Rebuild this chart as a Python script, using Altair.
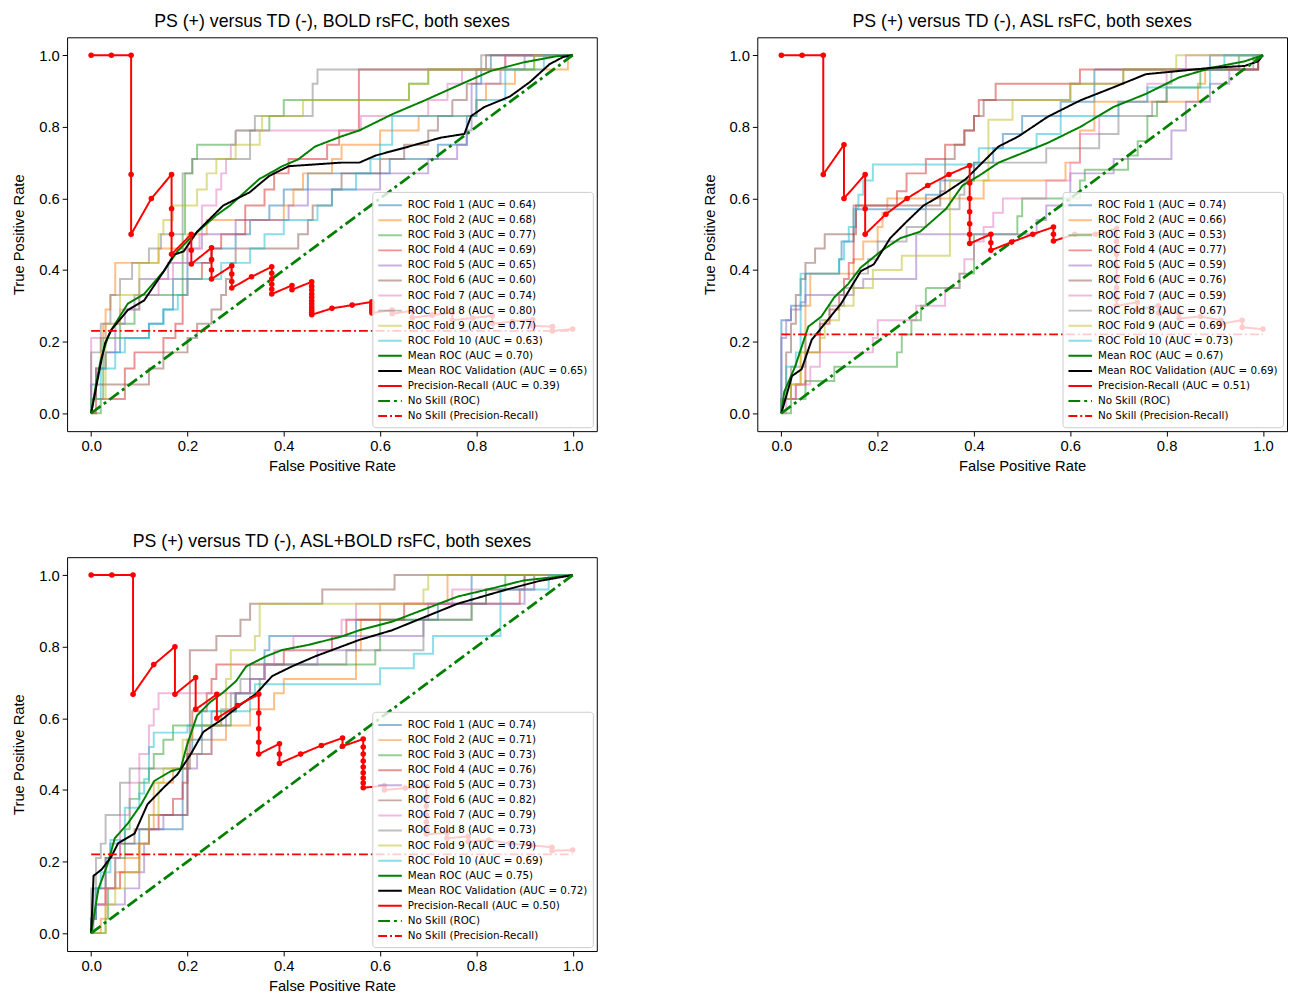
import altair as alt
import pandas as pd

TITLES = [
    "PS (+) versus TD (-), BOLD rsFC, both sexes",
    "PS (+) versus TD (-), ASL rsFC, both sexes",
    "PS (+) versus TD (-), ASL+BOLD rsFC, both sexes",
]
# tab10 colours drawn with alpha 0.5
FOLD_COLORS = ["rgba(31,119,180,0.5)", "rgba(255,127,14,0.5)", "rgba(44,160,44,0.5)",
               "rgba(214,39,40,0.5)", "rgba(148,103,189,0.5)", "rgba(140,86,75,0.5)",
               "rgba(227,119,194,0.5)", "rgba(127,127,127,0.5)", "rgba(188,189,34,0.5)",
               "rgba(23,190,207,0.5)"]

# ---------------- Panel 1: BOLD ----------------
P1_FOLD_AUC = [0.64, 0.68, 0.77, 0.69, 0.65, 0.60, 0.74, 0.80, 0.77, 0.63]
P1_MEAN_AUC = 0.70
P1_VAL_AUC = 0.65
P1_PR_AUC = 0.39
P1_NOSKILL_PR = 0.23
P1_F1 = [(0,0),(0,0.08),(0.01,0.125),(0.03,0.17),(0.06,0.21),(0.12,0.25),(0.15,0.29),(0.17,0.375),(0.2,0.42),(0.25,0.46),(0.3,0.5),(0.33,0.54),(0.37,0.58),(0.4,0.625),(0.45,0.67),(0.62,0.71),(0.72,0.75),(0.78,0.83),(0.8,0.92),(0.81,0.96),(0.83,1.0),(1,1)]
P1_F2 = [(0,0),(0,0.04),(0.01,0.125),(0.02,0.21),(0.025,0.25),(0.03,0.29),(0.04,0.33),(0.05,0.42),(0.14,0.46),(0.2,0.5),(0.24,0.54),(0.4,0.58),(0.42,0.625),(0.44,0.67),(0.5,0.71),(0.52,0.75),(0.6,0.79),(0.68,0.83),(0.8,0.875),(0.82,0.92),(0.88,0.96),(0.99,1.0),(1,1)]
P1_F3 = [(0,0),(0.02,0.04),(0.025,0.21),(0.06,0.25),(0.09,0.29),(0.1,0.33),(0.19,0.5),(0.195,0.67),(0.21,0.71),(0.22,0.75),(0.3,0.79),(0.37,0.83),(0.4,0.875),(0.66,0.92),(0.7,0.96),(0.92,1.0),(1,1)]
P1_F4 = [(0,0),(0.01,0.04),(0.07,0.125),(0.09,0.17),(0.15,0.21),(0.175,0.25),(0.19,0.33),(0.2,0.375),(0.23,0.42),(0.25,0.46),(0.27,0.5),(0.32,0.58),(0.36,0.625),(0.38,0.67),(0.41,0.71),(0.49,0.75),(0.515,0.79),(0.556,0.96),(0.86,1.0),(1,1)]
P1_F5 = [(0,0),(0,0.04),(0.01,0.125),(0.03,0.17),(0.05,0.25),(0.07,0.29),(0.09,0.33),(0.1,0.375),(0.16,0.42),(0.2,0.46),(0.23,0.5),(0.3,0.54),(0.41,0.58),(0.45,0.625),(0.6,0.67),(0.7,0.71),(0.76,0.75),(0.78,0.79),(0.79,0.92),(0.85,0.96),(0.9,1.0),(1,1)]
P1_F6 = [(0,0),(0,0.04),(0.01,0.08),(0.12,0.125),(0.15,0.17),(0.2,0.21),(0.22,0.25),(0.25,0.29),(0.27,0.33),(0.28,0.375),(0.29,0.42),(0.3,0.46),(0.43,0.5),(0.45,0.54),(0.46,0.58),(0.5,0.625),(0.52,0.67),(0.6,0.71),(0.65,0.75),(0.7,0.79),(0.72,0.83),(0.75,0.875),(0.78,0.92),(0.8,0.96),(0.82,1.0),(1,1)]
P1_F7 = [(0,0),(0,0.21),(0.03,0.25),(0.06,0.29),(0.1,0.33),(0.14,0.375),(0.17,0.42),(0.2,0.46),(0.225,0.5),(0.23,0.58),(0.26,0.625),(0.27,0.67),(0.28,0.71),(0.29,0.75),(0.3,0.79),(0.56,0.83),(0.7,0.875),(0.74,0.92),(0.77,0.96),(0.86,1.0),(1,1)]
P1_F8 = [(0,0),(0,0.17),(0.02,0.25),(0.04,0.33),(0.06,0.375),(0.085,0.42),(0.12,0.46),(0.145,0.5),(0.19,0.67),(0.21,0.71),(0.33,0.79),(0.34,0.83),(0.46,0.92),(0.47,0.96),(0.81,1.0),(1,1)]
P1_F9 = [(0,0),(0,0.04),(0.03,0.25),(0.06,0.33),(0.1,0.42),(0.14,0.5),(0.15,0.54),(0.17,0.58),(0.22,0.625),(0.24,0.67),(0.26,0.71),(0.3,0.75),(0.35,0.79),(0.355,0.83),(0.44,0.875),(0.66,0.92),(0.7,0.96),(0.92,1.0),(1,1)]
P1_F10 = [(0,0),(0,0.04),(0.02,0.125),(0.05,0.17),(0.07,0.21),(0.12,0.25),(0.15,0.29),(0.18,0.33),(0.2,0.375),(0.27,0.42),(0.33,0.46),(0.36,0.5),(0.4,0.54),(0.47,0.58),(0.5,0.625),(0.55,0.67),(0.58,0.71),(0.6,0.75),(0.625,0.83),(0.8,0.875),(0.86,0.96),(0.94,1.0),(1,1)]
P1_MEAN = [(0,0),(0.01,0.08),(0.02,0.15),(0.035,0.214),(0.042,0.233),(0.076,0.306),(0.11,0.333),(0.151,0.397),(0.179,0.452),(0.206,0.489),(0.26,0.553),(0.288,0.58),(0.349,0.654),(0.397,0.69),(0.43,0.709),(0.465,0.745),(0.519,0.773),(0.557,0.79),(0.625,0.835),(0.693,0.874),(0.761,0.915),(0.83,0.956),(0.898,0.98),(0.966,0.997),(1,1)]
P1_VAL = [(0,0),(0.01,0.07),(0.02,0.14),(0.029,0.196),(0.042,0.233),(0.076,0.288),(0.11,0.315),(0.151,0.397),(0.172,0.443),(0.192,0.452),(0.22,0.507),(0.274,0.58),(0.329,0.617),(0.37,0.663),(0.41,0.69),(0.465,0.695),(0.519,0.70),(0.557,0.70),(0.591,0.72),(0.66,0.745),(0.727,0.77),(0.775,0.78),(0.789,0.83),(0.816,0.855),(0.87,0.885),(0.911,0.925),(0.952,0.975),(0.98,0.995),(1,1)]
P1_PR = [(0,1),(0.042,1),(0.083,1),(0.083,0.667),(0.083,0.5),(0.125,0.6),(0.167,0.667),(0.167,0.571),(0.167,0.5),(0.167,0.444),(0.208,0.5),(0.208,0.455),(0.208,0.417),(0.25,0.462),(0.25,0.429),(0.25,0.4),(0.25,0.375),(0.292,0.412),(0.292,0.389),(0.292,0.368),(0.292,0.35),(0.333,0.381),(0.375,0.409),(0.375,0.391),(0.375,0.375),(0.375,0.36),(0.375,0.346),(0.375,0.333),(0.417,0.357),(0.417,0.345),(0.458,0.367),(0.458,0.355),(0.458,0.344),(0.458,0.333),(0.458,0.324),(0.458,0.314),(0.458,0.306),(0.458,0.297),(0.458,0.289),(0.458,0.282),(0.458,0.275),(0.5,0.293),(0.542,0.302),(0.583,0.311),(0.583,0.304),(0.583,0.298),(0.583,0.292),(0.583,0.286),(0.583,0.28),(0.625,0.288),(0.625,0.278),(0.667,0.286),(0.667,0.267),(0.708,0.274),(0.75,0.281),(0.75,0.26),(0.792,0.266),(0.833,0.272),(0.833,0.25),(0.875,0.256),(0.917,0.262),(0.917,0.244),(0.958,0.242),(0.958,0.23),(1.0,0.235)]

# ---------------- Panel 2: ASL ----------------
P2_FOLD_AUC = [0.74, 0.66, 0.53, 0.77, 0.59, 0.76, 0.59, 0.67, 0.69, 0.73]
P2_MEAN_AUC = 0.67
P2_VAL_AUC = 0.69
P2_PR_AUC = 0.51
P2_NOSKILL_PR = 0.22
P2_F1 = [(0,0),(0,0.26),(0.02,0.3),(0.05,0.39),(0.12,0.43),(0.125,0.48),(0.15,0.52),(0.155,0.57),(0.3,0.61),(0.33,0.65),(0.4,0.7),(0.44,0.74),(0.46,0.78),(0.5,0.83),(0.58,0.87),(0.65,0.96),(0.89,1.0),(1,1)]
P2_F2 = [(0,0),(0,0.04),(0.02,0.08),(0.04,0.17),(0.05,0.3),(0.06,0.39),(0.15,0.43),(0.17,0.48),(0.2,0.52),(0.21,0.56),(0.22,0.6),(0.42,0.65),(0.59,0.7),(0.62,0.79),(0.65,0.87),(0.865,0.92),(0.88,0.96),(0.99,1.0),(1,1)]
P2_F3 = [(0,0),(0.02,0.04),(0.05,0.09),(0.11,0.13),(0.24,0.17),(0.25,0.22),(0.27,0.26),(0.29,0.3),(0.3,0.35),(0.37,0.39),(0.4,0.5),(0.49,0.55),(0.5,0.6),(0.62,0.65),(0.63,0.68),(0.72,0.72),(0.74,0.76),(0.76,0.83),(0.78,0.87),(0.8,0.91),(0.87,0.96),(0.95,1.0),(1,1)]
P2_F4 = [(0,0),(0,0.04),(0.03,0.08),(0.05,0.17),(0.08,0.25),(0.1,0.29),(0.12,0.33),(0.13,0.375),(0.14,0.42),(0.15,0.5),(0.155,0.58),(0.24,0.62),(0.26,0.67),(0.3,0.71),(0.34,0.75),(0.38,0.79),(0.4,0.83),(0.41,0.875),(0.445,0.92),(0.62,0.96),(0.99,1.0),(1,1)]
P2_F5 = [(0,0),(0,0.21),(0.01,0.26),(0.02,0.29),(0.04,0.31),(0.05,0.33),(0.15,0.35),(0.17,0.375),(0.28,0.5),(0.53,0.54),(0.55,0.58),(0.6,0.67),(0.69,0.71),(0.81,0.79),(0.84,0.87),(0.89,0.92),(0.93,0.96),(0.99,1.0),(1,1)]
P2_F6 = [(0,0),(0,0.04),(0.01,0.17),(0.02,0.25),(0.03,0.33),(0.04,0.375),(0.05,0.42),(0.07,0.46),(0.09,0.5),(0.15,0.58),(0.33,0.62),(0.34,0.71),(0.36,0.75),(0.38,0.79),(0.4,0.83),(0.42,0.875),(0.6,0.92),(0.71,0.96),(0.99,1.0),(1,1)]
P2_F7 = [(0,0),(0.01,0.04),(0.03,0.08),(0.06,0.13),(0.08,0.17),(0.19,0.21),(0.2,0.26),(0.28,0.3),(0.34,0.35),(0.37,0.39),(0.38,0.43),(0.4,0.48),(0.42,0.52),(0.44,0.56),(0.46,0.6),(0.55,0.65),(0.6,0.7),(0.62,0.78),(0.66,0.83),(0.7,0.87),(0.76,0.92),(0.8,0.96),(0.84,1.0),(1,1)]
P2_F8 = [(0,0),(0,0.04),(0.02,0.13),(0.05,0.22),(0.08,0.26),(0.1,0.3),(0.13,0.35),(0.15,0.39),(0.18,0.43),(0.2,0.48),(0.26,0.52),(0.3,0.57),(0.37,0.61),(0.38,0.65),(0.4,0.7),(0.55,0.74),(0.66,0.78),(0.7,0.83),(0.77,0.87),(0.8,0.92),(0.81,0.96),(0.98,1.0),(1,1)]
P2_F9 = [(0,0),(0,0.04),(0.02,0.08),(0.04,0.17),(0.08,0.21),(0.09,0.26),(0.12,0.3),(0.15,0.35),(0.19,0.4),(0.25,0.44),(0.35,0.65),(0.43,0.82),(0.48,0.875),(0.6,0.92),(0.71,0.96),(0.82,1.0),(1,1)]
P2_F10 = [(0,0),(0,0.04),(0.01,0.13),(0.03,0.17),(0.04,0.39),(0.12,0.43),(0.13,0.48),(0.14,0.52),(0.15,0.57),(0.16,0.61),(0.17,0.65),(0.19,0.695),(0.41,0.74),(0.53,0.78),(0.58,0.83),(0.7,0.87),(0.76,0.91),(0.89,0.96),(0.92,1.0),(1,1)]
P2_MEAN = [(0,0),(0.006,0.06),(0.029,0.132),(0.056,0.242),(0.083,0.27),(0.11,0.324),(0.138,0.36),(0.165,0.407),(0.206,0.452),(0.247,0.489),(0.288,0.507),(0.342,0.571),(0.376,0.636),(0.41,0.663),(0.451,0.7),(0.492,0.722),(0.553,0.755),(0.621,0.8),(0.689,0.855),(0.757,0.892),(0.826,0.938),(0.894,0.965),(0.962,0.983),(1,1)]
P2_VAL = [(0,0),(0.022,0.104),(0.042,0.123),(0.063,0.205),(0.09,0.25),(0.124,0.306),(0.165,0.397),(0.192,0.416),(0.226,0.489),(0.26,0.535),(0.295,0.58),(0.342,0.617),(0.383,0.654),(0.424,0.709),(0.451,0.745),(0.492,0.773),(0.553,0.828),(0.621,0.874),(0.689,0.91),(0.757,0.947),(0.826,0.956),(0.894,0.965),(0.962,0.97),(0.99,0.983),(1,1)]
P2_PR = [(0,1),(0.043,1),(0.087,1),(0.087,0.667),(0.13,0.75),(0.13,0.6),(0.174,0.667),(0.174,0.571),(0.174,0.5),(0.217,0.556),(0.261,0.6),(0.304,0.636),(0.348,0.667),(0.391,0.692),(0.391,0.643),(0.391,0.6),(0.391,0.563),(0.391,0.529),(0.391,0.5),(0.391,0.474),(0.435,0.5),(0.435,0.476),(0.435,0.455),(0.478,0.478),(0.522,0.5),(0.565,0.52),(0.565,0.5),(0.565,0.481),(0.609,0.5),(0.652,0.5),(0.696,0.516),(0.696,0.48),(0.696,0.444),(0.696,0.41),(0.696,0.38),(0.696,0.35),(0.696,0.32),(0.696,0.3),(0.739,0.31),(0.739,0.29),(0.783,0.3),(0.783,0.28),(0.826,0.28),(0.826,0.265),(0.87,0.27),(0.913,0.26),(0.913,0.25),(0.957,0.26),(0.957,0.24),(1.0,0.235)]

# ---------------- Panel 3: ASL+BOLD ----------------
P3_FOLD_AUC = [0.74, 0.71, 0.73, 0.76, 0.73, 0.82, 0.79, 0.73, 0.79, 0.69]
P3_MEAN_AUC = 0.75
P3_VAL_AUC = 0.72
P3_PR_AUC = 0.50
P3_NOSKILL_PR = 0.22
P3_F1 = [(0,0),(0,0.04),(0.005,0.125),(0.03,0.21),(0.04,0.25),(0.1,0.29),(0.19,0.46),(0.2,0.5),(0.21,0.54),(0.23,0.58),(0.25,0.62),(0.3,0.67),(0.33,0.71),(0.36,0.79),(0.37,0.83),(0.55,0.875),(0.72,0.92),(0.79,1.0),(1,1)]
P3_F2 = [(0,0),(0.02,0.04),(0.03,0.125),(0.05,0.17),(0.07,0.21),(0.1,0.25),(0.12,0.29),(0.13,0.42),(0.17,0.46),(0.2,0.5),(0.25,0.54),(0.28,0.58),(0.33,0.625),(0.38,0.67),(0.4,0.71),(0.55,0.79),(0.56,0.875),(0.6,0.92),(0.74,1.0),(1,1)]
P3_F3 = [(0,0),(0.03,0.04),(0.035,0.125),(0.05,0.21),(0.07,0.29),(0.08,0.375),(0.1,0.42),(0.12,0.46),(0.13,0.5),(0.15,0.54),(0.17,0.58),(0.29,0.62),(0.3,0.67),(0.35,0.71),(0.36,0.75),(0.59,0.79),(0.6,0.875),(0.79,0.92),(0.82,0.96),(0.86,1.0),(1,1)]
P3_F4 = [(0,0),(0,0.04),(0.01,0.08),(0.03,0.125),(0.06,0.17),(0.1,0.25),(0.12,0.29),(0.14,0.33),(0.17,0.375),(0.19,0.42),(0.2,0.54),(0.21,0.62),(0.24,0.67),(0.25,0.71),(0.26,0.75),(0.4,0.79),(0.5,0.83),(0.53,0.875),(0.65,0.92),(0.89,0.96),(0.9,1.0),(1,1)]
P3_F5 = [(0,0),(0.005,0.04),(0.01,0.08),(0.07,0.125),(0.1,0.17),(0.11,0.25),(0.12,0.29),(0.15,0.33),(0.2,0.46),(0.22,0.5),(0.25,0.58),(0.28,0.62),(0.3,0.67),(0.33,0.71),(0.36,0.75),(0.47,0.79),(0.55,0.83),(0.69,0.875),(0.7,0.92),(0.9,0.96),(0.92,1.0),(1,1)]
P3_F6 = [(0,0),(0,0.04),(0.01,0.125),(0.03,0.21),(0.06,0.25),(0.09,0.29),(0.12,0.33),(0.2,0.46),(0.205,0.79),(0.26,0.83),(0.31,0.875),(0.33,0.92),(0.48,0.96),(0.63,1.0),(1,1)]
P3_F7 = [(0,0),(0,0.04),(0.01,0.08),(0.03,0.125),(0.05,0.21),(0.06,0.33),(0.08,0.42),(0.1,0.5),(0.12,0.58),(0.13,0.625),(0.14,0.67),(0.33,0.71),(0.36,0.75),(0.38,0.79),(0.42,0.83),(0.52,0.875),(0.55,0.92),(0.75,0.96),(0.92,1.0),(1,1)]
P3_F8 = [(0,0),(0,0.125),(0.01,0.21),(0.02,0.25),(0.03,0.33),(0.06,0.42),(0.08,0.46),(0.2,0.5),(0.23,0.54),(0.25,0.58),(0.27,0.625),(0.29,0.67),(0.31,0.71),(0.33,0.75),(0.53,0.79),(0.69,0.875),(0.79,0.92),(0.82,0.96),(0.9,1.0),(1,1)]
P3_F9 = [(0,0),(0.03,0.08),(0.05,0.125),(0.07,0.17),(0.1,0.25),(0.12,0.33),(0.14,0.42),(0.15,0.46),(0.19,0.54),(0.21,0.58),(0.27,0.62),(0.28,0.71),(0.29,0.79),(0.34,0.83),(0.35,0.92),(0.69,0.96),(0.7,1.0),(1,1)]
P3_F10 = [(0,0),(0,0.04),(0.01,0.125),(0.02,0.17),(0.04,0.26),(0.07,0.35),(0.1,0.39),(0.11,0.43),(0.12,0.52),(0.13,0.56),(0.2,0.58),(0.23,0.62),(0.33,0.66),(0.34,0.695),(0.6,0.74),(0.67,0.78),(0.71,0.83),(0.85,0.96),(0.95,1.0),(1,1)]
P3_MEAN = [(0,0),(0.015,0.123),(0.035,0.196),(0.049,0.265),(0.076,0.306),(0.104,0.36),(0.131,0.425),(0.165,0.452),(0.186,0.46),(0.199,0.525),(0.22,0.608),(0.247,0.645),(0.274,0.672),(0.301,0.704),(0.322,0.745),(0.363,0.773),(0.397,0.791),(0.451,0.805),(0.519,0.828),(0.557,0.846),(0.625,0.87),(0.693,0.905),(0.761,0.94),(0.83,0.962),(0.898,0.985),(1,1)]
P3_VAL = [(0,0),(0.005,0.16),(0.022,0.178),(0.042,0.214),(0.056,0.251),(0.09,0.278),(0.117,0.36),(0.151,0.407),(0.179,0.443),(0.206,0.498),(0.233,0.562),(0.274,0.599),(0.308,0.636),(0.342,0.668),(0.376,0.718),(0.417,0.745),(0.465,0.773),(0.519,0.8),(0.557,0.819),(0.625,0.846),(0.693,0.883),(0.761,0.92),(0.83,0.947),(0.864,0.96),(0.932,0.984),(1,1)]
P3_PR = [(0,1),(0.043,1),(0.087,1),(0.087,0.667),(0.13,0.75),(0.174,0.8),(0.174,0.667),(0.217,0.714),(0.217,0.625),(0.261,0.667),(0.261,0.6),(0.304,0.636),(0.348,0.667),(0.348,0.615),(0.348,0.571),(0.348,0.533),(0.348,0.5),(0.391,0.529),(0.391,0.5),(0.391,0.474),(0.435,0.5),(0.478,0.524),(0.522,0.545),(0.522,0.522),(0.565,0.542),(0.565,0.52),(0.565,0.5),(0.565,0.481),(0.565,0.464),(0.565,0.448),(0.565,0.433),(0.565,0.419),(0.565,0.406),(0.609,0.412),(0.609,0.4),(0.652,0.405),(0.696,0.41),(0.696,0.38),(0.696,0.355),(0.696,0.33),(0.696,0.31),(0.696,0.29),(0.696,0.276),(0.739,0.28),(0.739,0.265),(0.783,0.27),(0.783,0.255),(0.826,0.26),(0.87,0.25),(0.913,0.245),(0.957,0.24),(0.957,0.23),(1.0,0.232)]

NOSKILL_ROC = [(0, 0), (1, 1)]

PLOT_W, PLOT_H = 538, 400


def to_df(pts, label):
    return pd.DataFrame({
        "x": [p[0] for p in pts],
        "y": [p[1] for p in pts],
        "idx": list(range(len(pts))),
        "series": label,
    })


def panel(title, folds, fold_auc, mean, mean_auc, val, val_auc, pr, pr_auc, ns_pr):
    labels = [f"ROC Fold {i + 1} (AUC = {a:.2f})" for i, a in enumerate(fold_auc)] + [
        f"Mean ROC (AUC = {mean_auc:.2f})",
        f"Mean ROC Validation (AUC = {val_auc:.2f})",
        f"Precision-Recall (AUC = {pr_auc:.2f})",
        "No Skill (ROC)",
        "No Skill (Precision-Recall)",
    ]
    colors = FOLD_COLORS + ["#008000", "#000000", "#ff0000", "#008000", "#ff0000"]
    dashes = [[1, 0]] * 13 + [[12, 4, 3, 4], [9, 3, 2, 3]]

    legend = alt.Legend(
        orient="bottom-right", offset=4, zindex=1,
        fillColor="rgba(255,255,255,0.8)", strokeColor="#cccccc",
        cornerRadius=3, padding=5,
        labelFont="DejaVu Sans", labelFontSize=10.5, labelColor="#000000",
        labelLimit=400, labelOffset=14,
        symbolType="M-1,0H2.2", symbolStrokeWidth=2, symbolSize=225,
        rowPadding=1.3,
    )
    x = alt.X("x:Q", scale=alt.Scale(domain=[-0.05, 1.05], nice=False, zero=False),
              axis=alt.Axis(values=[0, 0.2, 0.4, 0.6, 0.8, 1.0], format=".1f",
                            title="False Positive Rate"))
    y = alt.Y("y:Q", scale=alt.Scale(domain=[-0.05, 1.05], nice=False, zero=False),
              axis=alt.Axis(values=[0, 0.2, 0.4, 0.6, 0.8, 1.0], format=".1f",
                            title="True Positive Rate"))
    enc = dict(
        x=x, y=y, order=alt.Order("idx:Q"),
        color=alt.Color("series:N", scale=alt.Scale(domain=labels, range=colors),
                        legend=legend, title=None),
        strokeDash=alt.StrokeDash("series:N", scale=alt.Scale(domain=labels, range=dashes),
                                  legend=legend, title=None),
    )

    fold_df = pd.concat([to_df(f, labels[i]) for i, f in enumerate(folds)], ignore_index=True)
    mean_df = to_df(mean, labels[10])
    val_df = to_df(val, labels[11])
    pr_df = to_df(pr, labels[12])
    nsroc_df = to_df(NOSKILL_ROC, labels[13])
    nspr_df = to_df([(0, ns_pr), (1, ns_pr)], labels[14])

    l_folds = alt.Chart(fold_df).mark_line(interpolate="step-after", strokeWidth=2).encode(**enc)
    l_mean = alt.Chart(mean_df).mark_line(strokeWidth=2).encode(**enc)
    l_val = alt.Chart(val_df).mark_line(strokeWidth=2).encode(**enc)
    l_nsroc = alt.Chart(nsroc_df).mark_line(strokeWidth=2.8).encode(**enc)
    l_pr = alt.Chart(pr_df).mark_line(strokeWidth=2).encode(**enc)
    l_prpts = alt.Chart(pr_df).mark_circle(size=32, color="#ff0000", opacity=1).encode(x=x, y=y)
    l_nspr = alt.Chart(nspr_df).mark_line(strokeWidth=1.8).encode(**enc)

    return alt.layer(l_folds, l_mean, l_val, l_nsroc, l_pr, l_prpts, l_nspr).properties(
        width=PLOT_W, height=PLOT_H,
        title=alt.TitleParams(title, font="Liberation Sans", fontSize=18,
                              fontWeight="normal", color="black", offset=6),
    )


p1 = panel(TITLES[0], [P1_F1, P1_F2, P1_F3, P1_F4, P1_F5, P1_F6, P1_F7, P1_F8, P1_F9, P1_F10],
           P1_FOLD_AUC, P1_MEAN, P1_MEAN_AUC, P1_VAL, P1_VAL_AUC, P1_PR, P1_PR_AUC, P1_NOSKILL_PR)
p2 = panel(TITLES[1], [P2_F1, P2_F2, P2_F3, P2_F4, P2_F5, P2_F6, P2_F7, P2_F8, P2_F9, P2_F10],
           P2_FOLD_AUC, P2_MEAN, P2_MEAN_AUC, P2_VAL, P2_VAL_AUC, P2_PR, P2_PR_AUC, P2_NOSKILL_PR)
p3 = panel(TITLES[2], [P3_F1, P3_F2, P3_F3, P3_F4, P3_F5, P3_F6, P3_F7, P3_F8, P3_F9, P3_F10],
           P3_FOLD_AUC, P3_MEAN, P3_MEAN_AUC, P3_VAL, P3_VAL_AUC, P3_PR, P3_PR_AUC, P3_NOSKILL_PR)

top = alt.hconcat(p1, p2, spacing=105).resolve_scale(color="independent", strokeDash="independent")
chart = alt.vconcat(top, p3, spacing=59).resolve_scale(
    color="independent", strokeDash="independent"
).properties(
    padding={"left": 3, "top": -3, "right": 0, "bottom": 0}
).configure_view(
    stroke="black", strokeWidth=1
).configure_axis(
    domain=False, grid=False, tickColor="black", tickSize=5, tickWidth=1,
    labelColor="black", labelFont="Liberation Sans", labelFontSize=15, labelPadding=3,
    titleFont="Liberation Sans", titleFontSize=15, titleFontWeight="normal", titleColor="black",
).configure_axisX(titlePadding=5).configure_axisY(titlePadding=12)

chart.save("out.html", embed_options={"renderer": "svg", "actions": False})
